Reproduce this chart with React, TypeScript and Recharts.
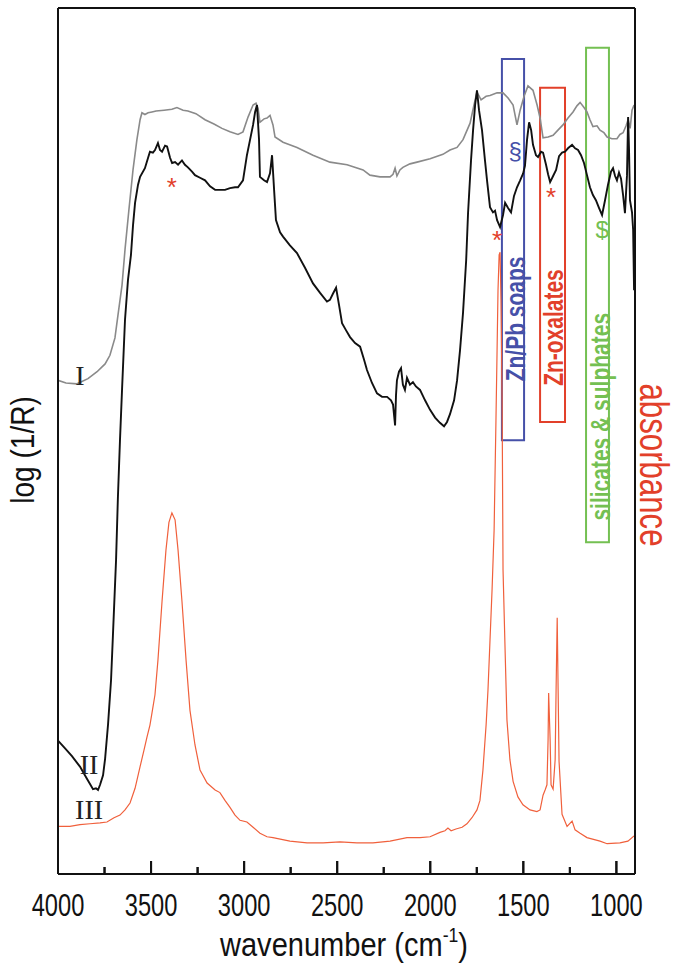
import React from "react";
import {
  ComposedChart,
  Line,
  XAxis,
  YAxis,
  ReferenceArea,
  ReferenceDot,
} from "recharts";

// spectrum I (grey, reflectance)
const wnI = [
  4000, 3957, 3898, 3839, 3790, 3747, 3721, 3694, 3678, 3656, 3640, 3619, 3597, 3576, 3559, 3549,
  3533, 3516, 3495, 3473, 3430, 3388, 3361, 3328, 3302, 3259, 3210, 3162, 3119, 3076, 3033, 3006,
  2979, 2952, 2936, 2925, 2915, 2893, 2877, 2861, 2845, 2834, 2791, 2716, 2630, 2539, 2447, 2361,
  2324, 2270, 2216, 2200, 2189, 2179, 2163, 2147, 2109, 2071, 2001, 1932, 1894, 1856, 1824, 1786,
  1765, 1749, 1727, 1700, 1679, 1641, 1609, 1582, 1555, 1534, 1517, 1496, 1475, 1448, 1426, 1410,
  1394, 1367, 1340, 1314, 1287, 1260, 1233, 1212, 1195, 1174, 1158, 1142, 1126, 1104, 1088, 1067,
  1050, 1024, 997, 981, 964, 948, 937, 926, 916, 905,
];
const absI = [
  57.0, 56.7, 56.6, 57.2, 58.0, 58.9, 59.9, 61.9, 64.5, 68.0, 72.1, 76.7, 81.3, 84.8, 87.1, 87.9,
  87.7, 87.9, 88.0, 88.1, 88.2, 88.3, 88.5, 88.2, 88.1, 87.8, 87.1, 86.6, 86.1, 85.7, 85.4, 85.7,
  87.4, 88.8, 89.0, 88.4, 86.8, 87.2, 87.3, 87.6, 86.5, 85.1, 84.5, 83.9, 83.0, 82.2, 81.9, 81.3,
  80.7, 80.5, 80.5, 80.8, 81.5, 80.6, 81.3, 81.6, 82.0, 82.2, 82.6, 83.1, 83.6, 83.9, 84.8, 86.7,
  88.8, 90.3, 89.4, 89.8, 89.9, 90.2, 90.2, 89.6, 88.8, 86.5, 88.2, 89.8, 91.0, 90.5, 88.8, 87.3,
  85.0, 85.1, 85.3, 85.9, 86.5, 87.3, 88.0, 88.7, 89.1, 88.5, 88.0, 87.1, 86.3, 86.4, 85.9, 85.6,
  85.1, 84.9, 84.9, 85.4, 85.6, 86.4, 87.1, 86.1, 88.2, 88.8,
];

// spectrum II (black, reflectance)
const wnII = [
  4000, 3962, 3925, 3882, 3850, 3828, 3812, 3796, 3785, 3774, 3758, 3747, 3731, 3715, 3705, 3688,
  3678, 3667, 3656, 3640, 3624, 3608, 3597, 3586, 3570, 3559, 3533, 3516, 3506, 3490, 3479, 3463,
  3452, 3441, 3425, 3414, 3398, 3387, 3371, 3355, 3334, 3318, 3302, 3280, 3264, 3237, 3210, 3183,
  3156, 3130, 3103, 3076, 3049, 3033, 3006, 2985, 2968, 2952, 2941, 2931, 2920, 2915, 2893, 2877,
  2861, 2850, 2839, 2829, 2807, 2791, 2754, 2716, 2673, 2630, 2592, 2555, 2539, 2523, 2506, 2490,
  2474, 2453, 2431, 2404, 2377, 2356, 2340, 2313, 2286, 2259, 2232, 2211, 2200, 2189, 2184, 2179,
  2168, 2157, 2147, 2136, 2125, 2109, 2093, 2077, 2055, 2028, 2001, 1974, 1948, 1926, 1910, 1894,
  1872, 1856, 1840, 1824, 1807, 1797, 1781, 1770, 1759, 1749, 1738, 1722, 1706, 1695, 1679, 1663,
  1652, 1641, 1625, 1609, 1598, 1582, 1566, 1550, 1534, 1517, 1501, 1491, 1480, 1469, 1458, 1448,
  1432, 1421, 1405, 1394, 1378, 1367, 1356, 1340, 1324, 1308, 1292, 1276, 1260, 1238, 1222, 1206,
  1190, 1174, 1158, 1142, 1126, 1110, 1093, 1077, 1061, 1045, 1029, 1018, 1007, 997, 986, 975,
  964, 954, 943, 937, 932, 927, 916, 910, 905,
];
const absII = [
  15.4, 14.5, 13.6, 12.4, 11.2, 10.4, 9.8, 9.9, 9.7, 10.3, 11.4, 13.3, 17.3, 22.4, 27.5, 36.3,
  43.6, 50.1, 55.9, 64.0, 68.6, 71.5, 74.9, 77.5, 79.6, 80.5, 81.5, 82.7, 83.4, 83.3, 83.6, 84.4,
  83.6, 83.4, 84.1, 84.0, 82.7, 82.1, 82.2, 81.9, 82.4, 81.9, 81.6, 81.1, 80.7, 80.4, 80.1, 79.4,
  79.0, 79.0, 79.0, 79.2, 79.3, 79.3, 80.1, 83.0, 84.8, 86.5, 88.0, 88.8, 84.8, 80.5, 80.1, 79.9,
  80.9, 83.0, 79.0, 75.5, 74.1, 73.6, 72.6, 71.7, 70.0, 68.2, 67.1, 66.1, 66.3, 67.0, 67.7, 65.7,
  63.6, 62.8, 62.0, 61.3, 60.9, 59.4, 58.2, 56.7, 55.5, 55.1, 55.1, 54.7, 54.2, 51.8, 55.3, 57.0,
  58.0, 58.4, 56.5, 55.9, 57.3, 56.5, 56.8, 56.3, 55.9, 54.7, 53.6, 52.7, 52.1, 51.7, 52.2, 53.1,
  54.7, 57.0, 60.5, 64.8, 70.9, 76.3, 82.4, 85.9, 88.8, 90.5, 88.2, 85.9, 82.4, 80.1, 77.0, 76.4,
  76.6, 75.5, 74.7, 76.1, 77.5, 76.9, 76.4, 78.3, 79.3, 80.1, 80.9, 81.8, 84.8, 86.8, 85.9, 84.2,
  83.0, 82.8, 83.4, 83.3, 81.9, 80.8, 79.9, 80.6, 81.3, 82.9, 83.3, 83.4, 83.8, 84.2, 83.8, 83.6,
  83.0, 82.1, 80.7, 79.3, 78.4, 77.8, 76.9, 76.1, 77.8, 79.6, 81.1, 81.5, 80.6, 80.1, 81.0, 80.3,
  78.4, 76.3, 80.7, 87.4, 83.6, 77.8, 76.4, 74.4, 67.4,
];

// spectrum III (red, absorbance)
const wnIII = [
  4000, 3936, 3882, 3828, 3774, 3737, 3699, 3667, 3640, 3613, 3586, 3559, 3538, 3522, 3506, 3495,
  3479, 3463, 3441, 3420, 3404, 3388, 3371, 3355, 3334, 3312, 3291, 3264, 3237, 3199, 3156, 3130,
  3103, 3076, 3049, 3022, 2985, 2952, 2915, 2877, 2845, 2754, 2662, 2576, 2485, 2394, 2308, 2216,
  2125, 2055, 2001, 1948, 1921, 1905, 1888, 1862, 1829, 1803, 1776, 1749, 1733, 1717, 1700, 1690,
  1679, 1668, 1657, 1647, 1641, 1636, 1630, 1625, 1620, 1614, 1609, 1598, 1588, 1572, 1555, 1529,
  1502, 1464, 1427, 1410, 1394, 1383, 1373, 1367, 1364, 1356, 1351, 1340, 1329, 1324, 1318, 1313,
  1308, 1292, 1265, 1238, 1222, 1195, 1158, 1088, 1050, 981, 938, 905,
];
const absIII = [
  5.5, 5.5, 5.7, 5.8, 5.9, 6.0, 6.5, 6.8, 7.4, 8.2, 9.9, 12.4, 14.3, 15.8, 17.2, 18.6,
  20.7, 24.7, 31.5, 37.4, 40.6, 41.7, 40.9, 37.4, 31.5, 24.7, 18.9, 14.9, 12.0, 10.5, 9.7, 9.4,
  8.5, 7.7, 6.8, 6.2, 6.0, 5.4, 4.7, 4.3, 4.2, 3.8, 3.6, 3.6, 3.7, 3.6, 3.6, 3.8,
  4.2, 4.2, 4.3, 4.8, 5.0, 5.3, 5.0, 5.2, 5.4, 5.8, 6.5, 7.4, 8.5, 12.0, 17.2, 21.2,
  27.0, 32.8, 39.7, 52.4, 60.5, 67.4, 71.5, 71.8, 66.3, 54.7, 35.1, 25.9, 17.8, 13.2, 10.7, 8.9,
  8.0, 7.4, 7.2, 7.4, 9.1, 9.7, 10.3, 15.5, 20.9, 15.5, 10.3, 9.8, 13.2, 21.2, 29.6, 21.2,
  13.0, 6.9, 5.5, 6.1, 5.1, 4.7, 4.2, 3.8, 3.5, 3.6, 3.8, 4.4,
];

const xTicks = [4000, 3750, 3500, 3250, 3000, 2750, 2500, 2250, 2000, 1750, 1500, 1250, 1000];
const xDomain = [900, 4000];

// marked bands: [from, to, top, bottom]
const bandSoaps = [1615, 1496, 94.1, 50.1];
const bandOxalates = [1410, 1276, 90.8, 52.2];
const bandSilicates = [1163, 1040, 95.4, 38.3];

const asterisks = [
  { wn: 3388, v: 79.3 },
  { wn: 1641, v: 73.2 },
  { wn: 1351, v: 78.2 },
];

const toRows = (wn: number[], a: number[]) => wn.map((w, i) => ({ wn: w, a: a[i] }));
const seriesI = toRows(wnI, absI);
const seriesII = toRows(wnII, absII);
const seriesIII = toRows(wnIII, absIII);

const W = 674;
const H = 965;
const M = { top: 8, right: 39, bottom: 91, left: 58 };

const SANS = "'Liberation Sans', Arial, Helvetica, sans-serif";
const SERIF = "'Liberation Serif', 'Times New Roman', serif";
const BLUE = "#4650a8";
const RED = "#e2402a";
const GREEN = "#74c052";

// tick mark pointing into the plot, label only on every 500
const WaveTick = (props: any) => {
  const { x, y, payload } = props;
  const major = payload.value % 500 === 0;
  const len = major ? 13 : 7;
  return (
    <g>
      <rect x={x - 1} y={y - len} width={2} height={len} fill="#111" />
      {major && (
        <g transform={`translate(${x},${y + 42}) scale(0.74,1)`}>
          <text textAnchor="middle" fontFamily={SANS} fontSize={32} fill="#111">
            {payload.value}
          </text>
        </g>
      )}
    </g>
  );
};

const vertLabel = (text: string, color: string, size: number, weight: string | number, sx: number) =>
  (props: any) => {
    const { x, y, width, height } = props.viewBox;
    const cx = x + width / 2;
    const cy = y + height / 2;
    return (
      <g transform={`translate(${cx},${cy}) rotate(-90) scale(${sx},1)`}>
        <text textAnchor="middle" dominantBaseline="central" fontFamily={SANS}
          fontSize={size} fontWeight={weight} fill={color}>
          {text}
        </text>
      </g>
    );
  };

const plainLabel = (text: string, color: string, size: number, family: string) =>
  (props: any) => {
    const { x, y, width, height } = props.viewBox;
    return (
      <text x={x + width / 2} y={y + height / 2} textAnchor="middle" dominantBaseline="central"
        fontFamily={family} fontSize={size} fill={color}>
        {text}
      </text>
    );
  };

const frame = { stroke: "#111", strokeWidth: 2 };

// same reversed linear mapping as the x axis, for the tick marks in the overlay
const plotW = W - M.left - M.right;
const xPix = (t: number) => M.left + ((xDomain[1] - t) / (xDomain[1] - xDomain[0])) * plotW;
const axisY = H - M.bottom;

export default function App() {
  return (
    <div style={{ position: "absolute", left: 0, top: 0, width: W, height: H, background: "#fff" }}>
      <ComposedChart width={W} height={H} margin={{ top: 0, right: 0, bottom: 0, left: 0 }}>
        <XAxis
          dataKey="wn"
          type="number"
          domain={xDomain}
          reversed
          ticks={xTicks}
          interval={0}
          tickSize={0}
          tickMargin={0}
          height={M.bottom}
          tick={<WaveTick />}
          tickLine={false}
          axisLine={frame}
          allowDataOverflow
        />
        <XAxis xAxisId="top" orientation="top" type="number" domain={xDomain} reversed
          height={M.top} tick={false} tickLine={false} axisLine={frame} />
        <YAxis type="number" domain={[0, 100]} width={M.left} tick={false} tickLine={false}
          axisLine={frame} allowDataOverflow />
        <YAxis yAxisId="right" orientation="right" type="number" domain={[0, 100]} width={M.right}
          tick={false} tickLine={false} axisLine={frame} />

        <ReferenceArea x1={bandSoaps[0]} x2={bandSoaps[1]} y1={bandSoaps[3]} y2={bandSoaps[2]}
          fill="none" stroke={BLUE} strokeWidth={2} ifOverflow="visible" />
        <ReferenceArea x1={bandOxalates[0]} x2={bandOxalates[1]} y1={bandOxalates[3]} y2={bandOxalates[2]}
          fill="none" stroke={RED} strokeWidth={2} ifOverflow="visible" />
        <ReferenceArea x1={bandSilicates[0]} x2={bandSilicates[1]} y1={bandSilicates[3]} y2={bandSilicates[2]}
          fill="none" stroke={GREEN} strokeWidth={2} ifOverflow="visible" />

        <Line data={seriesI} dataKey="a" type="linear" stroke="#8a8a8a" strokeWidth={1.6}
          dot={false} isAnimationActive={false} />
        <Line data={seriesII} dataKey="a" type="linear" stroke="#111" strokeWidth={1.9}
          dot={false} isAnimationActive={false} />
        <Line data={seriesIII} dataKey="a" type="linear" stroke="#f0603c" strokeWidth={1.2}
          dot={false} isAnimationActive={false} />

        <ReferenceDot x={1542} y={64.1} r={0} ifOverflow="visible"
          label={vertLabel("Zn/Pb soaps", BLUE, 28, "bold", 0.75)} />
        <ReferenceDot x={1338} y={63.1} r={0} ifOverflow="visible"
          label={vertLabel("Zn-oxalates", RED, 28, "bold", 0.75)} />
        <ReferenceDot x={1088} y={52.8} r={0} ifOverflow="visible"
          label={vertLabel("silicates & sulphates", GREEN, 28, "bold", 0.75)} />

        <ReferenceDot x={1544} y={83.6} r={0} ifOverflow="visible"
          label={plainLabel("§", BLUE, 24, SANS)} />
        <ReferenceDot x={1077} y={74.4} r={0} ifOverflow="visible"
          label={plainLabel("$", GREEN, 24, SANS)} />
        {asterisks.map((s, i) => (
          <ReferenceDot key={i} x={s.wn} y={s.v} r={0} ifOverflow="visible"
            label={plainLabel("*", RED, 26, SANS)} />
        ))}

        <ReferenceDot x={3882} y={57.6} r={0} ifOverflow="visible"
          label={plainLabel("I", "#222", 28, SERIF)} />
        <ReferenceDot x={3833} y={12.7} r={0} ifOverflow="visible"
          label={plainLabel("II", "#222", 28, SERIF)} />
        <ReferenceDot x={3833} y={7.5} r={0} ifOverflow="visible"
          label={plainLabel("III", "#222", 28, SERIF)} />
      </ComposedChart>

      <svg width={W} height={H} style={{ position: "absolute", left: 0, top: 0, pointerEvents: "none" }}>
        {xTicks.map((t) => (
          <line key={t} x1={xPix(t)} x2={xPix(t)} y1={axisY} y2={axisY - (t % 500 === 0 ? 13 : 7)}
            stroke="#111" strokeWidth={2} />
        ))}
        <g transform="translate(22,450) rotate(-90) scale(0.85,1)">
          <text textAnchor="middle" dominantBaseline="central" fontFamily={SANS} fontSize={33} fill="#111">
            log (1/R)
          </text>
        </g>
        <g transform="translate(653,465) rotate(90) scale(0.78,1)">
          <text textAnchor="middle" dominantBaseline="central" fontFamily={SANS} fontSize={40} fill={RED}>
            absorbance
          </text>
        </g>
        <g transform="translate(344,956) scale(0.88,1)">
          <text textAnchor="middle" fontFamily={SANS} fontSize={33} fill="#111">
            wavenumber (cm
            <tspan fontSize={20} dy={-14}>-1</tspan>
            <tspan dy={14}>)</tspan>
          </text>
        </g>
      </svg>
    </div>
  );
}
